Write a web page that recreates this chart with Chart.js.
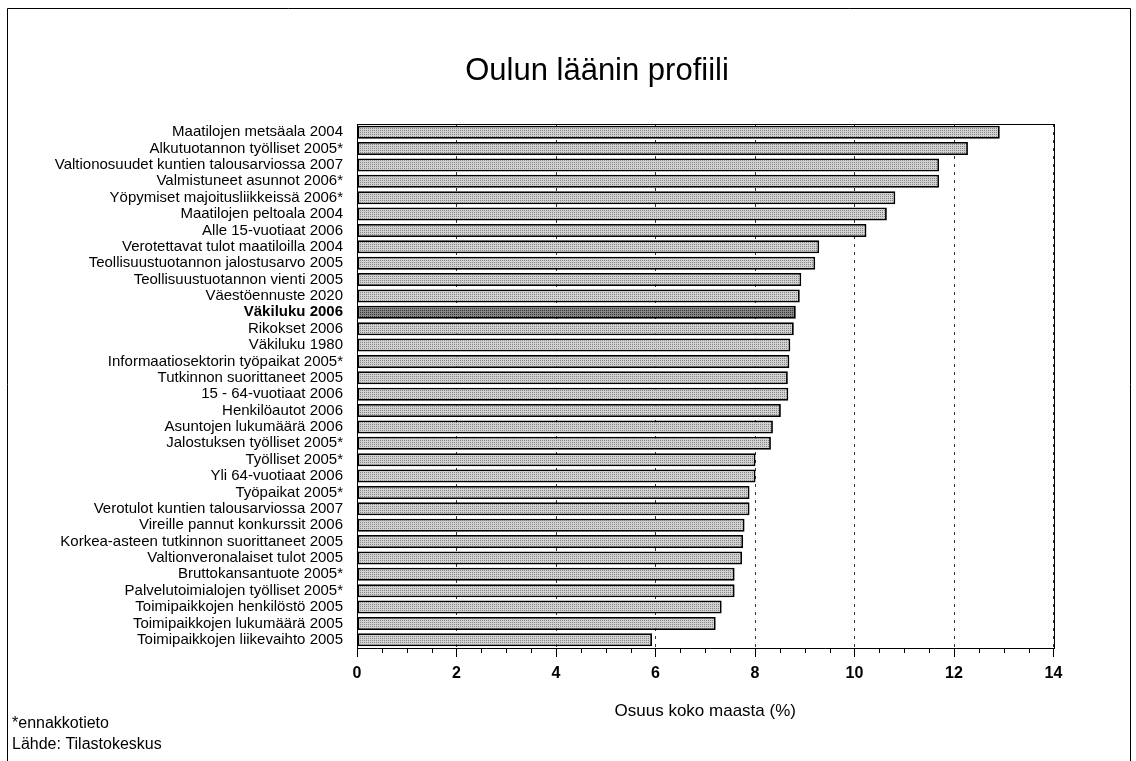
<!DOCTYPE html>
<html>
<head>
<meta charset="utf-8">
<script src="https://cdn.jsdelivr.net/npm/chart.js@4"></script>
<style>
  body { margin: 0; background: #fff; }
  #wrap { width: 1136px; height: 761px; }
</style>
</head>
<body>
<div id="wrap"><canvas id="profile" width="1136" height="761"></canvas></div>
<script>
// data
const labels = [
  'Maatilojen metsäala 2004', 'Alkutuotannon työlliset 2005*', 'Valtionosuudet kuntien talousarviossa 2007',
  'Valmistuneet asunnot 2006*', 'Yöpymiset majoitusliikkeissä 2006*', 'Maatilojen peltoala 2004',
  'Alle 15-vuotiaat 2006', 'Verotettavat tulot maatiloilla 2004', 'Teollisuustuotannon jalostusarvo 2005',
  'Teollisuustuotannon vienti 2005', 'Väestöennuste 2020', 'Väkiluku 2006', 'Rikokset 2006', 'Väkiluku 1980',
  'Informaatiosektorin työpaikat 2005*', 'Tutkinnon suorittaneet 2005', '15 - 64-vuotiaat 2006',
  'Henkilöautot 2006', 'Asuntojen lukumäärä 2006', 'Jalostuksen työlliset 2005*', 'Työlliset 2005*',
  'Yli 64-vuotiaat 2006', 'Työpaikat 2005*', 'Verotulot kuntien talousarviossa 2007',
  'Vireille pannut konkurssit 2006', 'Korkea-asteen tutkinnon suorittaneet 2005',
  'Valtionveronalaiset tulot 2005', 'Bruttokansantuote 2005*', 'Palvelutoimialojen työlliset 2005*',
  'Toimipaikkojen henkilöstö 2005', 'Toimipaikkojen lukumäärä 2005', 'Toimipaikkojen liikevaihto 2005'
];
const shares = [
  12.92, 12.28, 11.70, 11.70, 10.82, 10.65, 10.24, 9.29, 9.21, 8.93, 8.90, 8.82, 8.78, 8.71, 8.69, 8.66,
  8.67, 8.52, 8.36, 8.32, 8.01, 8.01, 7.89, 7.89, 7.79, 7.76, 7.74, 7.59, 7.59, 7.33, 7.21, 5.93
];
const highlight = 'Väkiluku 2006';
const xTicks = [0, 2, 4, 6, 8, 10, 12, 14];

const FONT = "'Liberation Sans', Arial, sans-serif";

// dotted fill like the printed original
function stipple(light, dark) {
  const c = document.createElement('canvas');
  c.width = 2; c.height = 2;
  const g = c.getContext('2d');
  g.fillStyle = light;
  g.fillRect(0, 0, 2, 2);
  g.fillStyle = dark;
  g.fillRect(0, 0, 1, 1);
  return g.createPattern(c, 'repeat');
}
const lightFill = stipple('#d2d2d2', '#858585');
const darkFill = stipple('#858585', '#383838');

// frame, plot box, minor ticks and texts
const decor = {
  id: 'decor',
  afterDraw(chart) {
    const ctx = chart.ctx;
    const a = chart.chartArea;
    const xs = chart.scales.x;
    ctx.save();
    ctx.strokeStyle = '#000';
    ctx.lineWidth = 1;
    ctx.beginPath();
    ctx.moveTo(7.5, 761);
    ctx.lineTo(7.5, 8.5);
    ctx.lineTo(1130.5, 8.5);
    ctx.lineTo(1130.5, 761);
    ctx.stroke();
    ctx.strokeRect(Math.round(a.left) + 0.5, Math.round(a.top) + 0.5, Math.round(a.right - a.left), Math.round(a.bottom - a.top));

    // minor ticks every 0.5
    ctx.beginPath();
    for (let v = 0.5; v < 14; v += 0.5) {
      if (v % 2 === 0) continue;
      const px = Math.round(xs.getPixelForValue(v)) + 0.5;
      ctx.moveTo(px, a.bottom);
      ctx.lineTo(px, a.bottom + 5);
    }
    ctx.stroke();

    ctx.fillStyle = '#000';
    ctx.textBaseline = 'middle';
    ctx.textAlign = 'center';
    ctx.font = '31px ' + FONT;
    ctx.fillText('Oulun läänin profiili', 597, 71);

    ctx.textAlign = 'left';
    ctx.font = '16px ' + FONT;
    ctx.fillText('*ennakkotieto', 12, 724);
    ctx.fillText('Lähde: Tilastokeskus', 12, 745);
    ctx.restore();
  }
};

new Chart(document.getElementById('profile'), {
  type: 'bar',
  data: {
    labels: labels,
    datasets: [{
      label: 'Osuus koko maasta (%)',
      data: shares,
      backgroundColor: labels.map(l => l === highlight ? darkFill : lightFill),
      borderColor: '#000',
      borderWidth: 1.8,
      borderSkipped: false,
      barPercentage: 0.8,
      categoryPercentage: 1
    }]
  },
  options: {
    indexAxis: 'y',
    responsive: false,
    animation: false,
    layout: {
      padding: { left: 0, right: 82.5, top: 124, bottom: 39 }
    },
    plugins: {
      legend: { display: false },
      title: { display: false },
      tooltip: { enabled: false }
    },
    scales: {
      x: {
        min: 0,
        max: 14,
        afterFit: (scale) => { scale.height = 74; },
        afterBuildTicks: (scale) => { scale.ticks = xTicks.map(v => ({ value: v })); },
        ticks: {
          color: '#000',
          padding: 7,
          maxRotation: 0,
          font: { family: FONT, size: 16, weight: 'bold' }
        },
        grid: {
          color: '#333',
          lineWidth: 1,
          tickBorderDash: [],
          tickColor: '#000',
          tickLength: 9
        },
        border: { color: '#000', width: 1, dash: [3, 5] },
        title: {
          display: true,
          text: 'Osuus koko maasta (%)',
          color: '#000',
          padding: 0,
          font: { family: FONT, size: 17 }
        }
      },
      y: {
        afterFit: (scale) => { scale.width = 357; },
        grid: { display: false, drawTicks: false },
        border: { color: '#000', width: 1 },
        ticks: {
          color: '#000',
          padding: 14,
          autoSkip: false,
          font: (ctx) => ({
            family: FONT,
            size: 15,
            weight: ctx.tick && ctx.tick.label === highlight ? 'bold' : 'normal'
          })
        }
      }
    }
  },
  plugins: [decor]
});
</script>
</body>
</html>
